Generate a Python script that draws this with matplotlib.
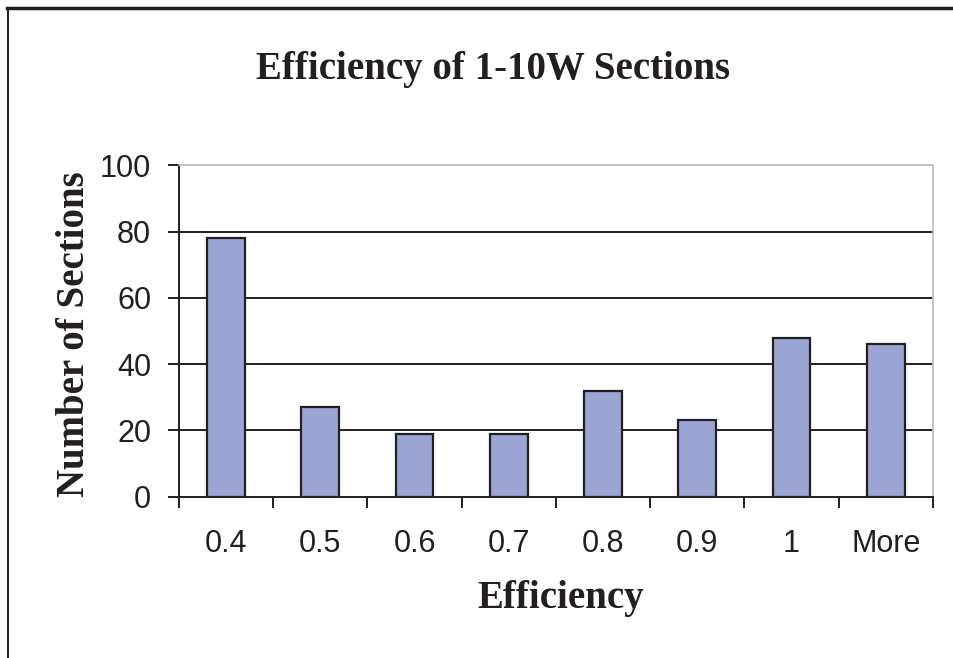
import numpy as np
import matplotlib
matplotlib.use("Agg")
import matplotlib.pyplot as plt
from matplotlib.lines import Line2D
from matplotlib import font_manager

# histogram bins and counts
bins = ["0.4", "0.5", "0.6", "0.7", "0.8", "0.9", "1", "More"]
counts = [78, 27, 19, 19, 32, 23, 48, 46]
y_ticks = [0, 20, 40, 60, 80, 100]

INK = "#231f20"
BAR = "#9aa5d3"
SERIF = "Liberation Serif"

# narrow sans for the tick labels when available
names = {f.name for f in font_manager.fontManager.ttflist}
if "Liberation Sans Narrow" in names:
    TICKFONT, TICKSIZE = "Liberation Sans Narrow", 24
else:
    TICKFONT, TICKSIZE = "Liberation Sans", 22

fig = plt.figure(figsize=(9.54, 6.58), dpi=100)
ax = fig.add_axes([0.1876, 0.2451, 0.7903, 0.5037])

x = np.arange(len(bins))
ax.bar(x, counts, width=0.4, color=BAR, edgecolor=INK, linewidth=1.6, zorder=3)

ax.set_xlim(-0.5, len(bins) - 0.5)
ax.set_ylim(0, 100)

# gridlines at 20..80, light border at 100
for v in y_ticks[1:-1]:
    ax.axhline(v, color=INK, linewidth=1.4, zorder=1)

ax.spines["top"].set_color("#b8bcc0")
ax.spines["right"].set_color("#b8bcc0")
ax.spines["top"].set_linewidth(1.2)
ax.spines["right"].set_linewidth(1.2)
ax.spines["left"].set_color(INK)
ax.spines["bottom"].set_color(INK)
ax.spines["left"].set_linewidth(1.4)
ax.spines["bottom"].set_linewidth(1.4)

# category labels centred, tick marks on the bin boundaries
ax.set_xticks(np.arange(len(bins) + 1) - 0.5)
ax.set_xticklabels([])
ax.set_xticks(x, minor=True)
ax.set_xticklabels(bins, minor=True, fontsize=TICKSIZE, fontfamily=TICKFONT, color=INK)
ax.tick_params(axis="x", which="major", direction="out", length=8, width=1.4, color=INK)
ax.tick_params(axis="x", which="minor", length=0, pad=23)

ax.set_yticks(y_ticks)
ax.set_yticklabels([str(v) for v in y_ticks], fontsize=TICKSIZE, fontfamily=TICKFONT, color=INK)
ax.tick_params(axis="y", direction="out", length=8, width=1.4, color=INK, pad=12)

fig.text(0.517, 0.894, "Efficiency of 1-10W Sections", ha="center", va="center",
         fontsize=28, fontweight="bold", fontfamily=SERIF, color=INK)
fig.text(0.588, 0.091, "Efficiency", ha="center", va="center",
         fontsize=28, fontweight="bold", fontfamily=SERIF, color=INK)
fig.text(0.0776, 0.4924, "Number of Sections", ha="center", va="center", rotation=90,
         fontsize=28, fontweight="bold", fontfamily=SERIF, color=INK)

# outer frame lines
fig.add_artist(Line2D([0.0074, 1.0], [0.9878, 0.9878], transform=fig.transFigure,
                      color=INK, linewidth=2.5))
fig.add_artist(Line2D([0.0079, 0.0079], [0.0, 0.9878], transform=fig.transFigure,
                      color=INK, linewidth=1.4))

fig.savefig("out.png", dpi=100)
